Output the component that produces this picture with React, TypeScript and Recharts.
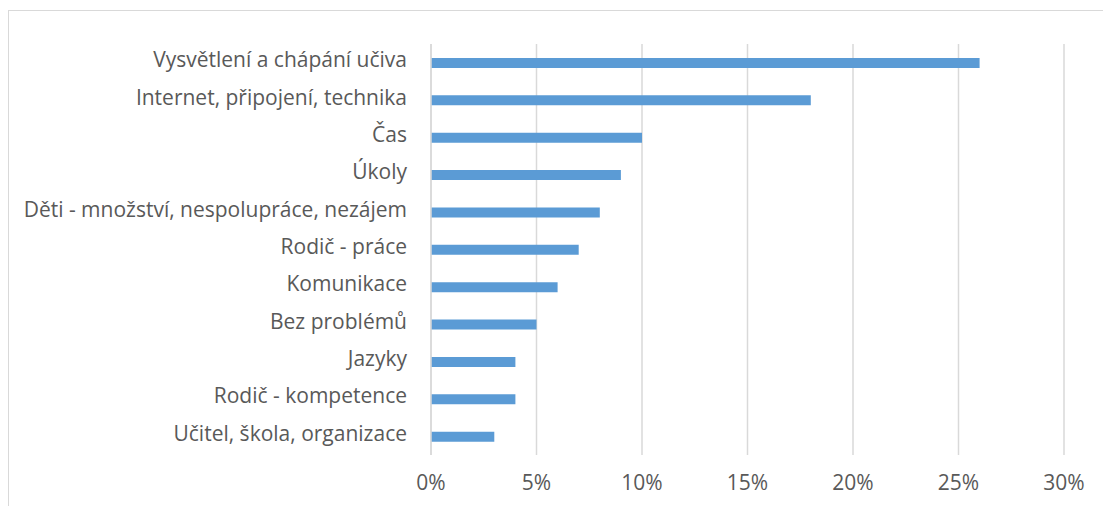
import { BarChart, Bar, XAxis, YAxis, CartesianGrid } from "recharts";

const categories = [
  "Vysvětlení a chápání učiva",
  "Internet, připojení, technika",
  "Čas",
  "Úkoly",
  "Děti - množství, nespolupráce, nezájem",
  "Rodič - práce",
  "Komunikace",
  "Bez problémů",
  "Jazyky",
  "Rodič - kompetence",
  "Učitel, škola, organizace",
];

const shares = [0.26, 0.18, 0.1, 0.09, 0.08, 0.07, 0.06, 0.05, 0.04, 0.04, 0.03];

const xTicks = [0, 0.05, 0.1, 0.15, 0.2, 0.25, 0.3];

const data = categories.map((name, i) => ({ name, value: shares[i] }));

const font = "'Open Sans', sans-serif";

export default function App() {
  return (
    <div
      style={{
        position: "fixed",
        left: 0,
        top: 0,
        width: 1103,
        height: 506,
        background: "#fff",
        overflow: "hidden",
        fontFamily: font,
      }}
    >
      <div
        style={{
          position: "absolute",
          left: 8,
          top: 10,
          width: 1200,
          height: 600,
          border: "1.5px solid #d9d9d9",
        }}
      />
      <div style={{ position: "absolute", left: 0, top: 0 }}>
        <BarChart
          width={1103}
          height={506}
          data={data}
          layout="vertical"
          margin={{ top: 44, right: 39, bottom: 21, left: 0 }}
          barSize={10}
        >
          <CartesianGrid
            horizontal={false}
            vertical={true}
            stroke="#d9d9d9"
            strokeWidth={1.5}
          />
          <XAxis
            type="number"
            domain={[0, 0.3]}
            ticks={xTicks}
            tickFormatter={(v: number) => `${Math.round(v * 100)}%`}
            axisLine={false}
            tickLine={false}
            tickSize={0}
            tickMargin={20}
            height={30}
            tick={{ fill: "#595959", fontSize: 21, fontFamily: font }}
            interval={0}
          />
          <YAxis
            type="category"
            dataKey="name"
            width={431}
            axisLine={{ stroke: "#d9d9d9", strokeWidth: 1.5 }}
            tickLine={false}
            tickSize={0}
            tickMargin={24}
            tick={{ fill: "#595959", fontSize: 21, fontFamily: font, dy: -3 }}
            interval={0}
          />
          <Bar dataKey="value" fill="#5b9bd5" isAnimationActive={false} />
        </BarChart>
      </div>
    </div>
  );
}
